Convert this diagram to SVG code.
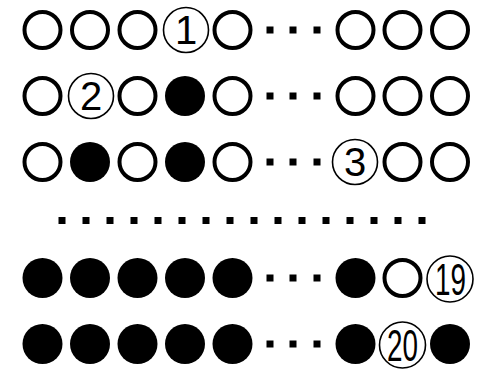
<svg xmlns="http://www.w3.org/2000/svg" width="484" height="374" viewBox="0 0 484 374">
<style>
.o{fill:#fff;stroke:#000;stroke-width:4}
.f{fill:#000}
.n{fill:#fff;stroke:#000;stroke-width:1.6}
.d{fill:#000}
.t{font-family:"Liberation Sans",Arial,sans-serif;font-size:40px;fill:#000;text-anchor:middle}
.c{font-family:"Liberation Sans",Arial,sans-serif;font-size:44px;fill:#000;text-anchor:middle}
</style>
<rect width="484" height="374" fill="#fff"/>
<defs>
<circle id="O" r="18" class="o"/>
<circle id="F" r="20" class="f"/>
<rect id="D" x="-3.5" y="-3.5" width="7" height="7" class="d"/>
</defs>
<g id="row1">
<use href="#O" x="42.5" y="30"/><use href="#O" x="90" y="30"/><use href="#O" x="137.5" y="30"/>
<g id="n1"><circle cx="186" cy="30" r="22.5" class="n"/><text class="t" x="186" y="44">1</text></g>
<use href="#O" x="232.5" y="30"/>
<use href="#D" x="270" y="30"/><use href="#D" x="293" y="30"/><use href="#D" x="317" y="30"/>
<use href="#O" x="355.5" y="30"/><use href="#O" x="402.5" y="30"/><use href="#O" x="450" y="30"/>
</g>
<g id="row2">
<use href="#O" x="42.5" y="96"/>
<g id="n2"><circle cx="91" cy="96" r="22.5" class="n"/><text class="t" x="91" y="110">2</text></g>
<use href="#O" x="137.5" y="96"/><use href="#F" x="185" y="96"/><use href="#O" x="232.5" y="96"/>
<use href="#D" x="270" y="96"/><use href="#D" x="293" y="96"/><use href="#D" x="317" y="96"/>
<use href="#O" x="355.5" y="96"/><use href="#O" x="402.5" y="96"/><use href="#O" x="450" y="96"/>
</g>
<g id="row3">
<use href="#O" x="42.5" y="162"/><use href="#F" x="90" y="162"/><use href="#O" x="137.5" y="162"/><use href="#F" x="185" y="162"/><use href="#O" x="232.5" y="162"/>
<use href="#D" x="270" y="162"/><use href="#D" x="293" y="162"/><use href="#D" x="317" y="162"/>
<g id="n3"><circle cx="355" cy="162" r="22.5" class="n"/><text class="t" x="355" y="176">3</text></g>
<use href="#O" x="402.5" y="162"/><use href="#O" x="450" y="162"/>
</g>
<g id="row4">
<use href="#D" x="62" y="220.5"/><use href="#D" x="86" y="220.5"/><use href="#D" x="110" y="220.5"/><use href="#D" x="134" y="220.5"/>
<use href="#D" x="158" y="220.5"/><use href="#D" x="182" y="220.5"/><use href="#D" x="206" y="220.5"/><use href="#D" x="230" y="220.5"/>
<use href="#D" x="254" y="220.5"/><use href="#D" x="278" y="220.5"/><use href="#D" x="302" y="220.5"/><use href="#D" x="326" y="220.5"/>
<use href="#D" x="350" y="220.5"/><use href="#D" x="374" y="220.5"/><use href="#D" x="398" y="220.5"/><use href="#D" x="422" y="220.5"/>
</g>
<g id="row5">
<use href="#F" x="42.5" y="278"/><use href="#F" x="90" y="278"/><use href="#F" x="137.5" y="278"/><use href="#F" x="185" y="278"/><use href="#F" x="232.5" y="278"/>
<use href="#D" x="270" y="278"/><use href="#D" x="293" y="278"/><use href="#D" x="317" y="278"/>
<use href="#F" x="355.5" y="278"/><use href="#O" x="402.5" y="278"/>
<g id="n19"><circle cx="450" cy="279" r="23" class="n"/><text class="c" x="450.5" y="295" textLength="31" lengthAdjust="spacingAndGlyphs">19</text></g>
</g>
<g id="row6">
<use href="#F" x="42.5" y="344"/><use href="#F" x="90" y="344"/><use href="#F" x="137.5" y="344"/><use href="#F" x="185" y="344"/><use href="#F" x="232.5" y="344"/>
<use href="#D" x="270" y="344"/><use href="#D" x="293" y="344"/><use href="#D" x="317" y="344"/>
<use href="#F" x="355.5" y="344"/>
<g id="n20"><circle cx="402.5" cy="345" r="23" class="n"/><text class="c" x="402.5" y="361" textLength="31" lengthAdjust="spacingAndGlyphs">20</text></g>
<use href="#F" x="450" y="344"/>
</g>
<g id="connectors"/>
</svg>
